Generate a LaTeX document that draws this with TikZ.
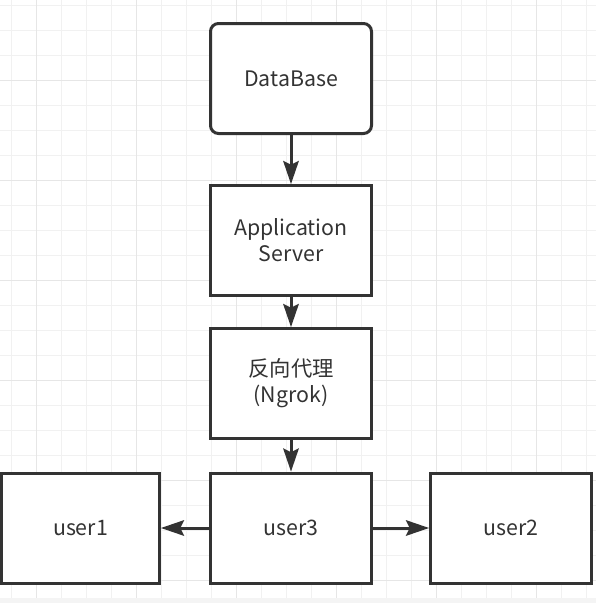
\documentclass[tikz,border=0pt]{standalone}
\usepackage{fontspec}
\setmainfont{Noto Sans CJK SC}
\usetikzlibrary{arrows.meta}
\definecolor{ink}{HTML}{333333}
\definecolor{gridminor}{HTML}{F1F1F1}
\definecolor{gridmajor}{HTML}{E6E6E6}
\definecolor{band}{HTML}{F4F4F4}
\begin{document}
\begin{tikzpicture}[x=0.75pt,y=-0.75pt,
  box/.style={draw=ink, line width=2.25pt, fill=white, minimum width=120.75pt,
    minimum height=82.5pt, inner sep=0pt, align=center, text=ink,
    font=\fontsize{16}{19.5}\selectfont},
  rbox/.style={box, rounded corners=6pt},
  conn/.style={draw=ink, line width=2.25pt,
    -{Stealth[length=17.5pt, width=12pt, inset=3pt, line width=0pt]}},
  gminor/.style={draw=gridminor, line width=0.75pt},
  gmajor/.style={draw=gridmajor, line width=0.75pt}]
\useasboundingbox (0,0) rectangle (596,603);
\fill[white] (0,0) rectangle (596,603);
% grid
\foreach \i in {0,...,23} {
  \pgfmathtruncatemacro{\xx}{11+25*\i}
  \ifnum\xx<596 \draw[gminor] (\xx,0) -- (\xx,598); \fi
}
\foreach \i in {0,...,23} {
  \pgfmathtruncatemacro{\yy}{5+25*\i}
  \ifnum\yy<598 \draw[gminor] (0,\yy) -- (596,\yy); \fi
}
\foreach \xx in {36,136,236,336,436,536} \draw[gmajor] (\xx,0) -- (\xx,598);
\foreach \yy in {80,180,280,380,480,580} \draw[gmajor] (0,\yy) -- (596,\yy);
\fill[band] (0,598) rectangle (596,603);
% nodes
\node[rbox] (db) at (291,78.5) {DataBase};
\node[box] (app) at (291,240.5) {Application\\Server};
\node[box] (ngrok) at (291,383.5) {反向代理\\(Ngrok)};
\node[box] (u3) at (291,528) {user3};
\node[box, minimum width=118.5pt] (u1) at (80.5,528) {user1};
\node[box] (u2) at (511,528) {user2};
% connectors
\draw[conn] (db) -- (app);
\draw[conn] (app) -- (ngrok);
\draw[conn] (ngrok) -- (u3);
\draw[conn] (u3) -- (u1);
\draw[conn] (u3) -- (u2);
\end{tikzpicture}
\end{document}
